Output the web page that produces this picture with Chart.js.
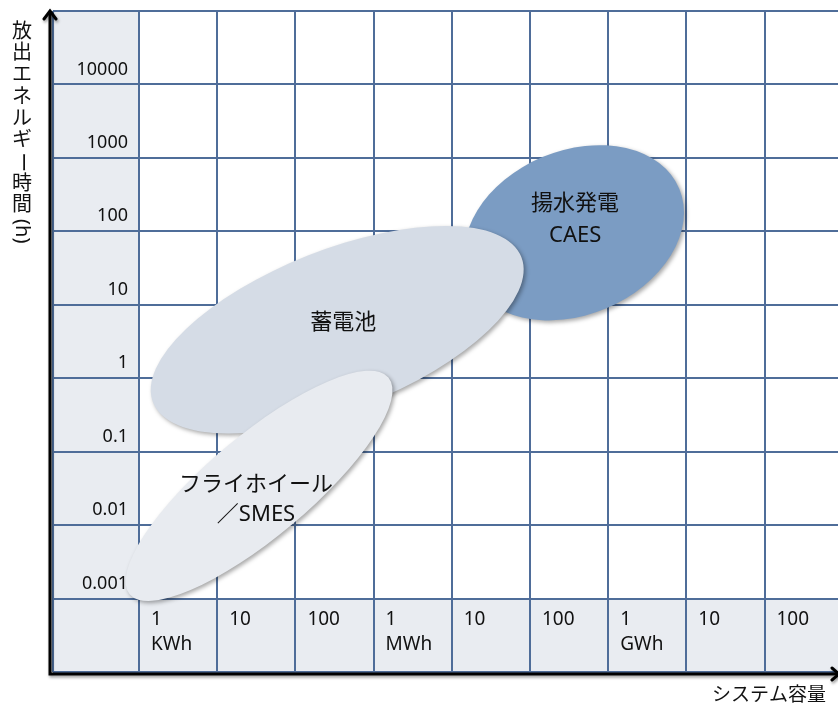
<!DOCTYPE html>
<html>
<head>
<meta charset="utf-8">
<script src="https://cdn.jsdelivr.net/npm/chart.js@4.4.1/dist/chart.umd.min.js"></script>
<style>
html, body { margin: 0; padding: 0; background: #fff; }
#wrap { width: 838px; height: 707px; }
</style>
</head>
<body>
<div id="wrap"><canvas id="mapChart" width="838" height="707"></canvas></div>
<script>
// 横軸 = log10(kWh), 縦軸 = log10(h)
var capLabels = ["1\nKWh", "10", "100", "1\nMWh", "10", "100", "1\nGWh", "10", "100"];
var durLabels = ["10000", "1000", "100", "10", "1", "0.1", "0.01", "0.001"];
var durTicks = [4, 3, 2, 1, 0, -1, -2, -3];

var techNames = [["揚水発電", "CAES"], ["蓄電池"], ["フライホイール", "／SMES"]];
// 楕円の長軸の両端 (log10)
var capFrom = [4.22, 0.18, -0.12];
var capTo = [6.91, 4.89, 3.19];
var durFrom = [1.38, -0.33, -2.94];
var durTo = [2.58, 1.65, 0.01];
// 短軸の半径 (decade)
var spread = [1.05, 1.02, 0.65];

var techColors = ['#7b9cc3', '#d5dce6', '#e8ebf0'];
var labelShift = [[1, -13], [6, -7], [-3, 14]];
var lineGap = [32, 0, 30];

var FONT = '"Noto Sans", "Noto Sans CJK JP", sans-serif';
var GRID = '#4f6d99';
var CELL = '#e9ecf1';

var cellBg = {
    id: 'cellBg',
    beforeDraw: function (chart) {
        var ctx = chart.ctx, a = chart.chartArea, x = chart.scales.x, y = chart.scales.y;
        ctx.save();
        ctx.fillStyle = '#fff';
        ctx.fillRect(0, 0, chart.width, chart.height);
        ctx.fillStyle = CELL;
        var x0 = x.getPixelForValue(0), y0 = y.getPixelForValue(-3);
        ctx.fillRect(a.left, a.top, x0 - a.left, a.bottom - a.top);
        ctx.fillRect(a.left, y0, a.right - a.left, a.bottom - y0);
        ctx.restore();
    }
};

var tickText = {
    id: 'tickText',
    beforeDatasetsDraw: function (chart) {
        var ctx = chart.ctx, x = chart.scales.x, y = chart.scales.y;
        ctx.save();
        ctx.fillStyle = '#111';
        ctx.textBaseline = 'middle';
        ctx.font = '18px ' + FONT;
        ctx.textAlign = 'right';
        var xr = x.getPixelForValue(0) - 11;
        durTicks.forEach(function (v, i) {
            ctx.fillText(durLabels[i], xr, y.getPixelForValue(v) - 15);
        });
        ctx.font = '19px ' + FONT;
        ctx.textAlign = 'left';
        var yt = y.getPixelForValue(-3);
        capLabels.forEach(function (lab, i) {
            var lines = lab.split('\n');
            lines.forEach(function (t, j) {
                ctx.fillText(t, x.getPixelForValue(i) + 12, yt + 21 + j * 25);
            });
        });
        ctx.restore();
    }
};

var blobs = {
    id: 'blobs',
    afterDatasetsDraw: function (chart) {
        var ctx = chart.ctx, x = chart.scales.x, y = chart.scales.y;
        var dec = x.getPixelForValue(1) - x.getPixelForValue(0);
        for (var i = 0; i < techNames.length; i++) {
            var x1 = x.getPixelForValue(capFrom[i]), y1 = y.getPixelForValue(durFrom[i]);
            var x2 = x.getPixelForValue(capTo[i]), y2 = y.getPixelForValue(durTo[i]);
            var cx = (x1 + x2) / 2, cy = (y1 + y2) / 2;
            var rx = Math.hypot(x2 - x1, y2 - y1) / 2;
            var ang = Math.atan2(y2 - y1, x2 - x1);
            ctx.save();
            ctx.shadowColor = 'rgba(0,0,0,0.35)';
            ctx.shadowBlur = 4;
            ctx.shadowOffsetX = 2;
            ctx.shadowOffsetY = 2;
            ctx.fillStyle = techColors[i];
            ctx.beginPath();
            ctx.ellipse(cx, cy, rx, spread[i] * dec, ang, 0, Math.PI * 2);
            ctx.fill();
            ctx.restore();

            ctx.save();
            ctx.fillStyle = '#111';
            ctx.font = '22px ' + FONT;
            ctx.textAlign = 'center';
            ctx.textBaseline = 'middle';
            var n = techNames[i].length;
            techNames[i].forEach(function (t, j) {
                ctx.fillText(t, cx + labelShift[i][0],
                    cy + labelShift[i][1] + (j - (n - 1) / 2) * lineGap[i]);
            });
            ctx.restore();
        }
    }
};

var axesArrows = {
    id: 'axesArrows',
    afterDraw: function (chart) {
        var ctx = chart.ctx, a = chart.chartArea;
        var ax = a.left - 3, ay = a.bottom + 2;
        ctx.save();
        ctx.shadowColor = 'rgba(0,0,0,0.4)';
        ctx.shadowBlur = 3;
        ctx.shadowOffsetX = 1;
        ctx.shadowOffsetY = 2;
        ctx.strokeStyle = '#000';
        ctx.lineWidth = 3;
        ctx.lineCap = 'round';
        ctx.beginPath();
        ctx.moveTo(ax, 12);
        ctx.lineTo(ax, ay);
        ctx.lineTo(chart.width, ay);
        ctx.stroke();
        ctx.beginPath();
        ctx.moveTo(ax - 6, 19);
        ctx.lineTo(ax, 11);
        ctx.lineTo(ax + 6, 19);
        ctx.moveTo(chart.width - 6, ay - 6);
        ctx.lineTo(chart.width + 1, ay);
        ctx.lineTo(chart.width - 6, ay + 6);
        ctx.stroke();
        ctx.restore();

        // 縦書きの軸タイトル
        ctx.save();
        ctx.fillStyle = '#111';
        ctx.font = '20px ' + FONT;
        ctx.textAlign = 'center';
        ctx.textBaseline = 'middle';
        var chars = ['放', '出', 'エ', 'ネ', 'ル', 'ギ', 'ー', '時', '間', '(h)'];
        chars.forEach(function (c, i) {
            var cy = 32 + i * 21.7;
            if (c === 'ー' || c === '(h)') {
                ctx.save();
                ctx.translate(22, cy + (c === '(h)' ? 4 : 0));
                ctx.rotate(Math.PI / 2);
                ctx.fillText(c, 0, 0);
                ctx.restore();
            } else {
                ctx.fillText(c, 22, cy);
            }
        });
        ctx.font = '19px ' + FONT;
        ctx.fillText('システム容量', 769, 696);
        ctx.restore();
    }
};

var ctx = document.getElementById("mapChart").getContext("2d");
new Chart(ctx, {
    type: 'scatter',
    data: { datasets: [] },
    options: {
        responsive: false,
        animation: false,
        layout: { padding: { left: 53, top: 11, right: 0, bottom: 35 } },
        plugins: { legend: { display: false }, tooltip: { enabled: false } },
        scales: {
            x: {
                type: 'linear',
                min: -1.1,
                max: 8.94,
                afterBuildTicks: function (s) {
                    s.ticks = [-1.1, 0, 1, 2, 3, 4, 5, 6, 7, 8].map(function (v) { return { value: v }; });
                },
                ticks: { display: false },
                border: { display: false },
                grid: { color: GRID, lineWidth: 2, drawTicks: false }
            },
            y: {
                type: 'linear',
                min: -4,
                max: 5,
                ticks: { display: false, stepSize: 1 },
                border: { display: false },
                grid: { color: GRID, lineWidth: 2, drawTicks: false }
            }
        }
    },
    plugins: [cellBg, tickText, blobs, axesArrows]
});
</script>
</body>
</html>
